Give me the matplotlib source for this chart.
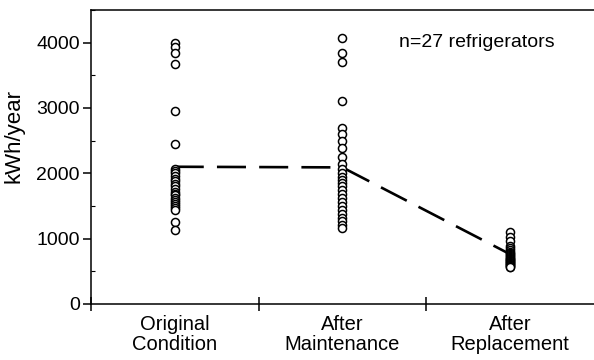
import matplotlib.pyplot as plt
from matplotlib.ticker import MultipleLocator, FixedLocator

plt.rcParams['font.family'] = ['Liberation Sans', 'DejaVu Sans']

# category labels
categories = ['Original\nCondition', 'After\nMaintenance', 'After\nReplacement']

# kWh/year for each of the 27 refrigerators
original = [4000, 3930, 3850, 3680, 2950, 2450,
            2070, 2040, 2000, 1960, 1920, 1880, 1840, 1800, 1760, 1720,
            1690, 1660, 1620, 1590, 1560, 1530, 1500, 1470, 1440,
            1250, 1130]
maintenance = [4070, 3850, 3700, 3110,
               2700, 2600, 2500, 2380, 2250, 2140, 2060, 2000, 1950,
               1900, 1850, 1800, 1740, 1680, 1620, 1560, 1500, 1440,
               1380, 1320, 1270, 1210, 1160]
replacement = [1100, 1030, 960, 880, 850, 820, 800, 780, 760, 750,
               740, 720, 700, 690, 680, 670, 660, 650, 640, 630,
               620, 610, 600, 590, 580, 570, 560]

# dashed line through group means
means = [2100, 2090, 760]

fig = plt.figure(figsize=(5.94, 3.6), dpi=100)
ax = fig.add_axes([0.153, 0.156, 0.847, 0.816])

ax.plot(range(3), means, color='black', lw=1.9, dashes=(11, 5), zorder=1)

for i, vals in enumerate([original, maintenance, replacement]):
    ax.plot([i] * len(vals), vals, 'o', ms=5.8, mfc='white', mec='black',
            mew=1.1, zorder=2, linestyle='none')

ax.set_xlim(-0.5, 2.5)
ax.set_ylim(0, 4500)

ax.spines['right'].set_visible(False)
for s in ['left', 'top', 'bottom']:
    ax.spines[s].set_linewidth(1.1)

ax.yaxis.set_major_locator(MultipleLocator(1000))
ax.yaxis.set_minor_locator(MultipleLocator(500))
ax.tick_params(axis='y', which='major', direction='out', length=6, width=1.1,
               labelsize=14, pad=2)
ax.tick_params(axis='y', which='minor', direction='in', length=3, width=0.8)

# x ticks only separate the groups; labels sit in between
ax.xaxis.set_major_locator(FixedLocator([-0.5, 0.5, 1.5]))
ax.set_xticklabels([])
ax.tick_params(axis='x', which='major', direction='inout', length=10, width=1.1)
ax.xaxis.set_minor_locator(FixedLocator([0, 1, 2]))
ax.set_xticklabels(categories, minor=True, linespacing=1.05)
ax.tick_params(axis='x', which='minor', length=0, labelsize=14.5, pad=8)

ax.set_ylabel('kWh/year', fontsize=16)
ax.yaxis.set_label_coords(-0.132, 0.57)

ax.text(1.34, 4000, 'n=27 refrigerators', fontsize=14, va='center')

fig.savefig('out.png', dpi=100)
